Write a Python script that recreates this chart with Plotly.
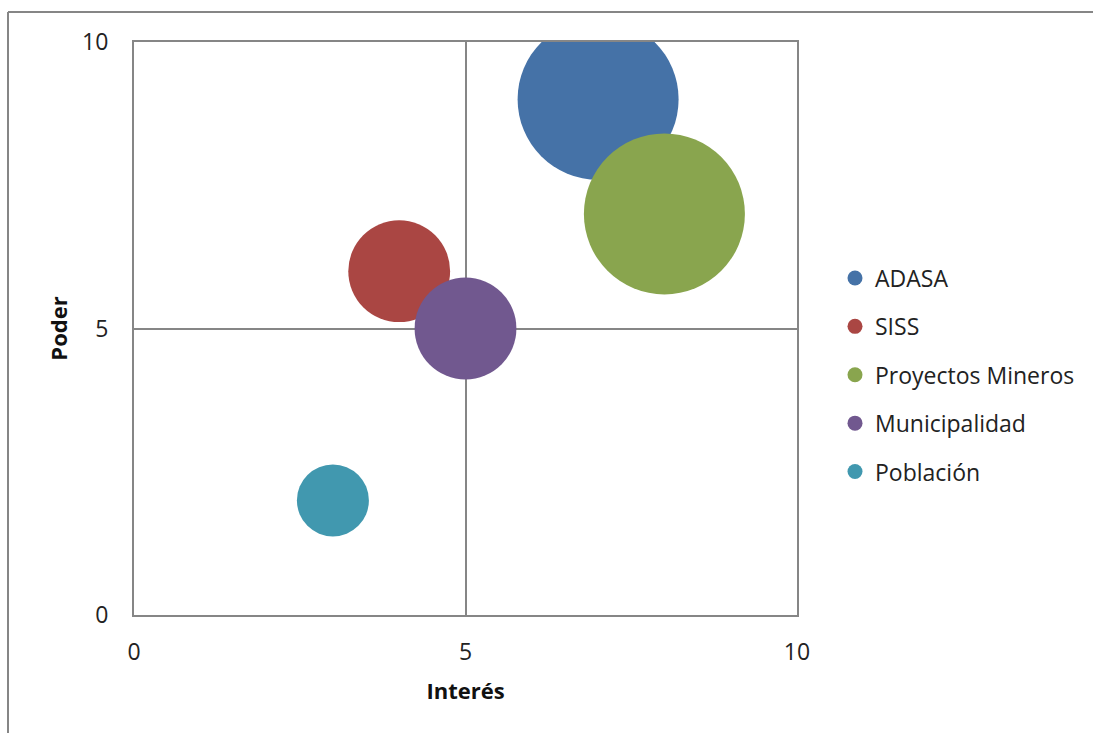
import plotly.graph_objects as go

# ---- data ----
actores = ["ADASA", "SISS", "Proyectos Mineros", "Municipalidad", "Población"]
interes = [7, 4, 8, 5, 3]
poder = [9, 6, 7, 5, 2]
tamano = [10, 4, 10, 4, 2]
colores = ["#4572A7", "#AA4643", "#89A54E", "#71588F", "#4198AF"]
tick_vals = [0, 5, 10]
tick_text = ["0", "5", "10"]
x_title = "Interés"
y_title = "Poder"

# ---- layout constants ----
W, H = 1093, 733
L, R, T, B = 134, 296, 42, 118
gris = "#868686"
fuente = "Open Sans, Calibri, sans-serif"
sizeref = 1 / 1296.0  # bubble of size 2 -> 72 px diameter

fig = go.Figure()

for nombre, x, y, s, c in zip(actores, interes, poder, tamano, colores):
    fig.add_trace(go.Scatter(
        x=[x], y=[y], mode="markers", name=nombre,
        marker=dict(size=[s], sizemode="area", sizeref=sizeref,
                    color=c, opacity=1, line=dict(width=0)),
        showlegend=False, legendgroup=nombre, hoverinfo="name",
    ))

for nombre, c in zip(actores, colores):
    fig.add_trace(go.Scatter(
        x=[None], y=[None], mode="markers", name=nombre,
        marker=dict(size=15, color=c, line=dict(width=0)),
        showlegend=True, legendgroup=nombre,
    ))

pw = W - L - R
ph = H - T - B

def px_x(p):
    return (p - L) / pw

def px_y(p):
    return (H - B - p) / ph

axis_common = dict(
    range=[0, 10], tickmode="array", tickvals=tick_vals, ticktext=tick_text,
    showgrid=True, gridcolor=gris, gridwidth=2,
    showline=True, linecolor=gris, linewidth=2, mirror=True,
    zeroline=False, ticks="", fixedrange=True,
    tickfont=dict(family=fuente, size=23, color="#222222"),
)

fig.update_layout(
    width=W, height=H,
    margin=dict(l=L, r=R, t=T, b=B, autoexpand=False),
    paper_bgcolor="white", plot_bgcolor="white",
    font=dict(family=fuente, color="#222222"),
    xaxis=dict(**axis_common, ticklabelstandoff=15,
               title=dict(text="<b>" + x_title + "</b>", standoff=18,
                          font=dict(family=fuente, size=22, color="#111111"))),
    yaxis=dict(**axis_common, ticklabelstandoff=19,
               title=dict(text="<b>" + y_title + "</b>", standoff=8,
                          font=dict(family=fuente, size=22, color="#111111"))),
    legend=dict(
        x=px_x(835), y=px_y(375), xanchor="left", yanchor="middle",
        font=dict(family=fuente, size=23, color="#222222"),
        tracegroupgap=15.5, bgcolor="rgba(0,0,0,0)",
    ),
    showlegend=True,
    shapes=[
        dict(type="line", xref="paper", yref="paper",
             x0=px_x(8), x1=px_x(W + 10), y0=px_y(12), y1=px_y(12),
             line=dict(color=gris, width=2), layer="below"),
        dict(type="line", xref="paper", yref="paper",
             x0=px_x(8), x1=px_x(8), y0=px_y(12), y1=px_y(H + 10),
             line=dict(color=gris, width=2), layer="below"),
    ],
)

fig.write_html("out.html")
